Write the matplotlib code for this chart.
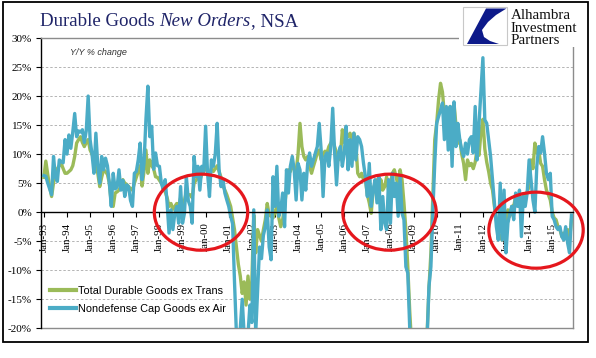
import matplotlib.pyplot as plt
from matplotlib.patches import Ellipse, Rectangle, Polygon
import numpy as np

# Y/Y % change, monthly from Jan-1993 to Nov-2015 (one row per year)
total_durables_ex_trans = [
    6.0, 8.8, 6.5, 4.4, 2.7, 5.0, 7.3, 7.5, 8.0, 8.4, 7.5, 6.7,        # 1993
    6.7, 7.0, 7.3, 8.0, 9.6, 11.9, 12.5, 13.0, 12.0, 11.3, 12.0, 12.5,  # 1994
    10.7, 10.0, 9.0, 8.0, 6.7, 4.4, 6.0, 7.3, 7.0, 6.5, 5.0, 1.5,      # 1995
    1.0, 3.3, 3.5, 3.8, 4.5, 5.6, 5.0, 4.8, 4.4, 4.0, 3.8, 5.0,        # 1996
    6.0, 7.0, 8.0, 4.5, 7.0, 10.7, 6.7, 9.0, 8.0, 7.5, 6.1, 6.0,       # 1997
    5.5, 5.0, 4.4, 3.5, 2.5, 1.0, 1.5, 0.5, 1.0, 1.5, 1.0, 2.5,        # 1998
    1.0, 2.0, 3.5, 3.0, 3.0, 2.5, 5.0, 5.5, 6.0, 5.5, 6.5, 7.0,        # 1999
    8.0, 7.0, 6.5, 7.5, 7.0, 7.5, 8.0, 7.0, 6.0, 4.5, 3.8, 3.0,        # 2000
    2.0, 1.0, -1.0, -3.0, -6.0, -9.0, -11.0, -14.0, -12.0, -16.0, -11.0, -15.0,  # 2001
    -12.0, -0.5, -7.0, -3.0, -4.0, -5.0, -3.0, -1.3, 1.5, -0.5, -0.7, -1.0,      # 2002
    0.0, 1.0, -1.0, -2.5, -1.3, 1.0, 4.0, 7.3, 7.0, 7.9, 7.5, 7.0,     # 2003
    10.0, 15.3, 11.3, 9.6, 9.0, 9.6, 7.9, 6.7, 7.9, 9.0, 10.2, 10.7,   # 2004
    9.0, 10.0, 10.5, 10.2, 11.3, 11.9, 12.5, 11.3, 10.2, 9.0, 9.6, 14.2,  # 2005
    12.0, 13.6, 13.0, 13.6, 12.5, 13.6, 11.9, 6.7, 6.1, 6.7, 5.6, 5.6,    # 2006
    3.0, 1.6, -0.2, 3.8, 5.0, 5.6, 2.7, 5.6, 3.8, 4.4, 6.1, 3.8,       # 2007
    5.0, 6.7, 7.3, 6.0, 4.4, 7.3, 5.6, 1.6, -3.0, -9.4, -17.0, -23.0,  # 2008
    -27.0, -30.0, -32.0, -32.0, -30.0, -28.0, -25.0, -21.0, -13.0, -7.0, 3.0, 12.5,  # 2009
    15.3, 19.4, 22.2, 20.7, 16.9, 14.5, 15.6, 18.2, 16.5, 18.8, 15.0, 11.9,  # 2010
    12.5, 10.0, 8.4, 5.6, 9.0, 8.0, 8.4, 7.5, 8.6, 10.9, 9.8, 13.8,    # 2011
    16.0, 10.9, 8.6, 7.0, 5.0, 3.8, 1.0, -1.3, -3.6, -4.2, -4.8, -0.2,  # 2012
    -1.9, 0.4, -0.7, 1.0, 1.0, 2.7, 1.6, 2.1, 2.5, 2.7, 2.7, 3.5,      # 2013
    4.4, 9.0, 7.5, 11.9, 10.2, 10.7, 8.4, 7.9, 5.6, 3.8, 3.0, 2.1,     # 2014
    0.0, -1.0, -1.3, -2.5, -3.0, -4.2, -3.6, -4.2, -3.0, -4.8, -1.3,   # 2015
]

nondefense_cap_ex_air = [
    6.3, 6.2, 5.0, 4.0, 3.0, 9.6, 6.0, 5.3, 9.0, 8.7, 8.5, 12.5,       # 1993
    10.0, 13.3, 11.0, 13.8, 17.0, 13.0, 14.0, 13.8, 14.2, 12.0, 14.0, 20.0,  # 1994
    12.5, 10.0, 6.7, 13.6, 8.0, 5.0, 9.6, 7.3, 9.3, 8.0, 5.0, 1.0,     # 1995
    6.7, 4.0, 4.3, 7.3, 3.8, 5.5, 2.7, 4.7, 4.4, 2.0, 1.0, 6.7,        # 1996
    7.0, 9.0, 11.9, 5.6, 8.4, 16.0, 21.7, 13.0, 14.8, 7.4, 10.2, 8.0,  # 1997
    7.9, 5.0, 3.9, 5.6, 1.6, -3.6, 0.4, -3.0, -0.2, 1.0, -1.9, 4.4,    # 1998
    -1.9, -0.2, 6.1, 2.0, 1.0, -1.9, 9.6, 6.1, 7.9, 3.8, 7.9, 7.0,     # 1999
    14.8, 6.7, 2.7, 9.0, 7.9, 10.0, 15.3, 7.3, 4.4, 5.6, 3.3, 2.1,     # 2000
    1.0, -0.7, -2.0, -12.0, -21.0, -22.0, -20.0, -15.0, -21.0, -22.0, -21.0, -16.0,  # 2001
    -19.0, 0.4, -21.0, -13.4, -6.0, -8.0, -4.0, -2.5, 0.4, -6.0, -8.2, 6.1,        # 2002
    1.0, 7.9, -0.7, 0.4, 3.3, -2.5, 7.3, 3.3, 7.9, 9.6, 7.3, 2.1,      # 2003
    8.4, 7.3, 2.1, 6.7, 3.8, 8.4, 10.2, 7.9, 9.0, 10.2, 11.3, 15.3,    # 2004
    10.7, 2.7, 9.6, 10.2, 7.9, 11.3, 17.9, 10.2, 4.7, 10.2, 11.3, 7.9,  # 2005
    10.2, 14.8, 7.3, 12.5, 7.9, 13.6, 9.0, 13.0, 12.5, 11.3, 8.4, 6.1,  # 2006
    2.7, 8.4, 1.0, 3.8, 5.6, 1.6, 6.1, -3.0, 2.7, -1.9, -3.0, 5.6,     # 2007
    -1.9, 6.7, 2.7, 5.0, -0.7, 6.1, -0.2, -1.3, -9.4, -10.5, -20.0, -25.0,  # 2008
    -27.0, -30.0, -32.0, -32.0, -30.0, -28.0, -25.0, -22.0, -12.8, -9.4, 0.0, 8.4,  # 2009
    15.3, 16.5, 17.6, 18.8, 12.5, 18.2, 10.7, 18.2, 7.9, 19.0, 11.3, 15.3,  # 2010
    12.5, 10.7, 9.6, 11.9, 10.0, 12.5, 13.0, 10.2, 18.2, 9.0, 15.3, 21.0,   # 2011
    26.6, 15.9, 15.3, 12.5, 9.6, 5.6, 1.6, -2.5, -4.8, 5.0, -4.8, 3.8,   # 2012
    -7.0, -1.9, -0.2, 1.0, -1.3, 3.3, 1.0, 3.8, -4.2, 2.7, 1.0, 3.3,    # 2013
    9.0, 5.6, 2.1, 0.0, 7.9, 11.3, 10.2, 13.0, 10.2, 6.7, 5.6, 6.7,     # 2014
    -0.7, -1.3, -2.5, -3.0, -2.5, -4.2, -4.8, -2.5, -5.3, -7.0, -0.5,   # 2015
]

years = list(range(1993, 2016))
tick_labels = [f"Jan-{y % 100:02d}" for y in years]
legend_labels = ["Total Durable Goods ex Trans", "Nondefense Cap Goods ex Air"]

# highlighted periods: (center month index, center %, width in months, height in %)
circles = [(81.6, 0.0, 48.5, 13.1), (179.5, 0.0, 48.5, 13.1), (255.6, -3.1, 49.0, 13.1)]

W, H = 596, 358
GREEN = "#9bbb59"
BLUE = "#4bacc6"
NAVY = "#1f2468"
SERIF = ["Liberation Serif", "DejaVu Serif"]
SANS = ["Liberation Sans", "DejaVu Sans"]


def fx(px):
    return px / W


def fy(py):
    return 1 - py / H


fig = plt.figure(figsize=(W / 100, H / 100), dpi=100)
ax = fig.add_axes([fx(41), fy(328.3), (573 - 41) / W, (328.3 - 38) / H])

months = np.arange(len(nondefense_cap_ex_air))
ax.plot(months, total_durables_ex_trans, color=GREEN, lw=2.4, solid_joinstyle="round",
        label=legend_labels[0], zorder=3)
ax.plot(months, nondefense_cap_ex_air, color=BLUE, lw=2.4, solid_joinstyle="round",
        label=legend_labels[1], zorder=4)

ax.set_xlim(-1.5, 274.8)
ax.set_ylim(-20, 30)

# grid + frame
for v in range(-15, 30, 5):
    if v != 0:
        ax.axhline(v, color="#b4b4b4", lw=0.7, ls=(0, (2.5, 2)), zorder=1)
ax.axhline(-20, color="#8c8c8c", lw=1.0, zorder=2, clip_on=False)
for side in ("top", "right"):
    ax.spines[side].set_color("#8c8c8c")
    ax.spines[side].set_linewidth(1.0)
ax.spines["left"].set_color("black")
ax.spines["left"].set_linewidth(1.0)
ax.spines["bottom"].set_position(("data", 0))
ax.spines["bottom"].set_color("black")
ax.spines["bottom"].set_linewidth(1.0)
ax.spines["bottom"].set_zorder(5)

yt = list(range(-20, 31, 5))
ax.set_yticks(yt)
ax.set_yticklabels([f"{v}%" for v in yt], fontfamily=SERIF, fontsize=8)
ax.set_xticks([12 * i for i in range(len(years))])
ax.set_xticklabels(tick_labels, rotation=90, fontfamily=SERIF, fontsize=7.8, va="top")
ax.tick_params(axis="both", direction="out", length=3.5, width=0.8, pad=3, color="black")
ax.tick_params(axis="x", pad=4)

for cx, cy, w, h in circles:
    ax.add_patch(Ellipse((cx, cy), w, h, fill=False, edgecolor="#e5171d", lw=2.3,
                         zorder=6, clip_on=False))

ax.text(0.055, 0.965, "Y/Y % change", transform=ax.transAxes, fontsize=6.5,
        style="italic", fontfamily=SANS, color="#333333", va="top")

leg = ax.legend(loc="lower left", bbox_to_anchor=(fx(50), fy(314)), bbox_transform=fig.transFigure,
                frameon=False, prop={"family": SANS, "size": 7.8}, handlelength=2.4,
                handletextpad=0.15, labelspacing=0.75, borderaxespad=0, borderpad=0)
for line in leg.get_lines():
    line.set_linewidth(3)

# title in three pieces
renderer = fig.canvas.get_renderer()
x = fx(40)
for txt, style in [("Durable Goods ", "normal"), ("New Orders", "italic"), (", NSA", "normal")]:
    t = fig.text(x, fy(26), txt, fontsize=13.6, fontfamily=SERIF, style=style,
                 color=NAVY, va="baseline")
    x += t.get_window_extent(renderer).width / W

# logo area covers top-right corner of plot frame
fig.patches.append(Rectangle((fx(459), fy(47)), (587 - 459) / W, 44 / H, transform=fig.transFigure,
                             facecolor="white", edgecolor="none", zorder=10))
fig.patches.append(Rectangle((fx(463), fy(45)), 44 / W, 38 / H, transform=fig.transFigure,
                             facecolor="white", edgecolor="#c8c8c8", lw=0.8, zorder=11))
crescent = [(486, 8.5), (506.5, 8.5), (496, 15), (488, 22), (482, 30), (484, 37),
            (490, 41), (499, 44), (467, 44)]
fig.patches.append(Polygon([(fx(a), fy(b)) for a, b in crescent], closed=True,
                           transform=fig.transFigure, facecolor="#0d1a8a",
                           edgecolor="none", zorder=12))
for i, word in enumerate(["Alhambra", "Investment", "Partners"]):
    fig.text(fx(511), fy(19 + 12.5 * i), word, fontsize=10.8, fontfamily=SERIF,
             color="#111111", va="baseline", zorder=12)

# outer chart border
fig.patches.append(Rectangle((fx(3), fy(342)), 585 / W, 340 / H, transform=fig.transFigure,
                             facecolor="none", edgecolor="black", lw=1.3, zorder=13))

fig.savefig("out.png", dpi=100)
